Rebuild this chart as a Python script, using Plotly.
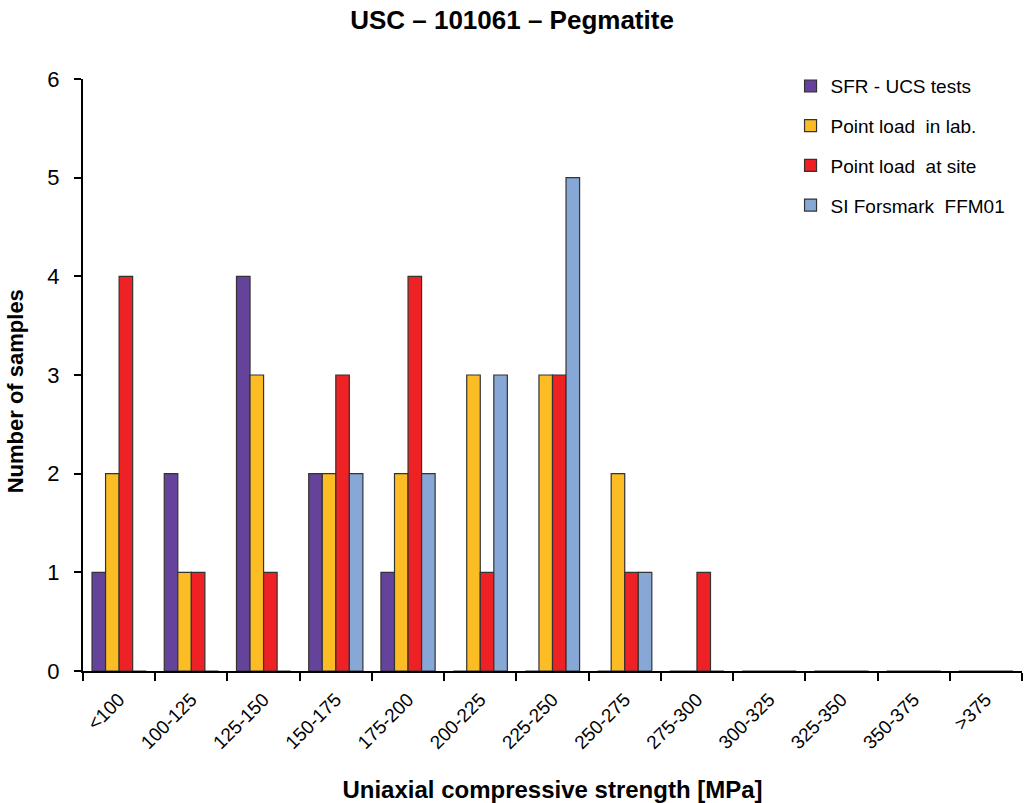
import plotly.graph_objects as go

categories = ["<100", "100-125", "125-150", "150-175", "175-200", "200-225", "225-250",
              "250-275", "275-300", "300-325", "325-350", "350-375", ">375"]
sfr_ucs = [1, 2, 4, 2, 1, 0, 0, 0, 0, 0, 0, 0, 0]
pl_lab = [2, 1, 3, 2, 2, 3, 3, 2, 0, 0, 0, 0, 0]
pl_site = [4, 1, 1, 3, 4, 1, 3, 1, 1, 0, 0, 0, 0]
si_ffm01 = [0, 0, 0, 2, 2, 3, 5, 1, 0, 0, 0, 0, 0]

series = [
    ("SFR - UCS tests", sfr_ucs, "#65439a"),
    ("Point load  in lab.", pl_lab, "#fbbd23"),
    ("Point load  at site", pl_site, "#ee2124"),
    ("SI Forsmark  FFM01", si_ffm01, "#87a7d7"),
]

fig = go.Figure()
for i, (name, vals, col) in enumerate(series):
    fig.add_trace(go.Bar(
        x=categories, y=vals, name=name, legendgroup=f"g{i}",
        marker=dict(color=col, line=dict(color="#333333", width=1.2)),
    ))

fig.update_layout(
    width=1024, height=803,
    margin=dict(l=83, r=2, t=79, b=132),
    paper_bgcolor="white", plot_bgcolor="white",
    barmode="group", bargap=0.25, bargroupgap=0,
    font=dict(family="Liberation Sans, Arial, sans-serif", color="black"),
    title=dict(text="<b>USC – 101061 – Pegmatite</b>", x=0.5, xanchor="center",
               y=0.975, yanchor="middle", automargin=False,
               font=dict(family="Liberation Sans, Arial, sans-serif", size=26)),
    legend=dict(x=0.7535, y=1.02, xanchor="left", yanchor="top",
                font=dict(size=19), tracegroupgap=12, bgcolor="rgba(0,0,0,0)"),
    showlegend=True,
    annotations=[dict(text="<b>Number of samples</b>", xref="paper", yref="paper",
                      x=-0.071, y=0.473, xanchor="center", yanchor="middle",
                      textangle=-90, showarrow=False, font=dict(size=22))],
)
fig.update_xaxes(
    type="category", showline=True, linecolor="black", linewidth=2,
    ticks="outside", tickson="boundaries", ticklen=8, tickwidth=1.5, tickcolor="black",
    tickangle=-45, tickfont=dict(size=19), ticklabelstandoff=8, automargin=False,
    title=dict(text="<b>Uniaxial compressive strength [MPa]</b>", standoff=37,
               font=dict(size=24)),
    showgrid=False,
)
fig.update_yaxes(
    range=[0, 6], dtick=1, showline=True, linecolor="black", linewidth=2,
    ticks="outside", ticklen=7, tickwidth=1.5, tickcolor="black",
    tickfont=dict(size=22), ticklabelstandoff=10, showgrid=False, zeroline=False,
    automargin=False,
)

fig.write_html("out.html", config={"displayModeBar": False},
               post_script="document.body.style.margin='0';")
